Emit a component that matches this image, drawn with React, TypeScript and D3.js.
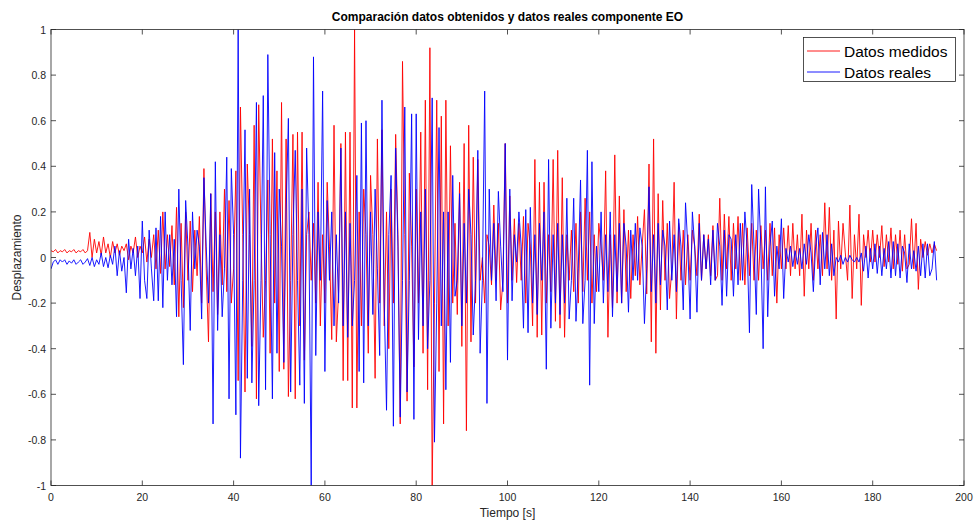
import React from "react";
import * as d3 from "d3";

// Sampling interval of both records, in seconds
const SAMPLE_STEP = 0.5;

// Datos medidos (red), one row per 5 s
const datosMedidos: number[] = [
  0.03, 0.025, 0.035, 0.02, 0.03, 0.025, 0.035, 0.02, 0.03, 0.025,
  0.035, 0.02, 0.03, 0.025, 0.035, 0.02, 0.03, 0.11, 0.0, 0.08,
  0.02, 0.07, 0.01, 0.09, 0.02, 0.06, 0.0, 0.07, 0.02, 0.06,
  0.01, 0.05, 0.03, 0.06, -0.01, 0.05, 0.02, 0.09, 0.0, 0.05,
  0.02, 0.09, -0.02, 0.08, 0.0, 0.1, -0.05, 0.12, -0.07, 0.2,
  -0.05, 0.1, -0.04, 0.14, -0.12, 0.22, -0.26, 0.15, -0.22, 0.2,
  -0.1, 0.16, -0.15, 0.12, -0.08, 0.18, -0.2, 0.39, -0.05, -0.37,
  0.28, -0.15, 0.2, -0.25, 0.2, -0.12, 0.3, -0.15, 0.25, -0.2,
  -0.05, 0.38, -0.54, 0.66, 0.1, -0.59, 0.41, 0.1, -0.39, 0.58,
  -0.62, 0.67, 0.1, -0.35, -0.1, 0.34, -0.42, 0.52, -0.2, 0.38,
  -0.5, 0.68, -0.49, 0.52, -0.61, -0.1, 0.54, -0.62, 0.55, -0.3,
  0.55, -0.45, 0.1, 0.2, -0.1, 0.15, -0.2, 0.33, -0.3, 0.1,
  -0.2, 0.33, 0.05, -0.36, 0.58, -0.37, -0.15, 0.5, -0.54, 0.55,
  -0.54, 0.55, -0.66, 1.0, -0.66, 0.2, -0.3, 0.3, 0.1, -0.42,
  0.36, 0.1, -0.53, 0.52, -0.2, 0.56, -0.3, 0.2, -0.4, 0.3,
  -0.2, 0.54, 0.1, -0.73, 0.86, 0.1, -0.63, 0.37, 0.05, -0.48,
  0.3, -0.2, 0.55, -0.42, 0.69, -0.58, 0.92, -1.0, -0.2, 0.69,
  -0.5, 0.62, -0.73, 0.69, -0.3, 0.49, -0.2, 0.15, -0.25, 0.33,
  -0.39, 0.5, -0.76, 0.58, -0.37, 0.44, -0.2, 0.43, -0.1, 0.0,
  -0.2, 0.1, 0.05, -0.12, 0.23, -0.1, 0.15, -0.23, -0.1, 0.5,
  -0.2, 0.27, -0.1, 0.17, -0.11, 0.15, -0.1, 0.18, -0.2, 0.15,
  0.05, -0.3, 0.43, -0.35, 0.33, -0.34, 0.33, -0.2, 0.1, -0.15,
  0.43, -0.28, 0.47, -0.31, 0.35, -0.35, 0.1, -0.1, 0.12, -0.15,
  0.15, -0.2, 0.2, -0.15, 0.26, -0.1, 0.2, -0.2, 0.1, -0.15,
  0.15, 0.05, -0.1, 0.38, -0.35, 0.1, -0.22, 0.45, -0.2, 0.27,
  -0.2, 0.21, -0.15, 0.12, -0.18, 0.1, -0.08, 0.18, -0.12, 0.05,
  0.21, -0.16, 0.41, -0.37, 0.52, -0.42, 0.28, -0.23, 0.25, -0.1,
  0.15, -0.18, -0.05, 0.33, -0.27, 0.15, -0.1, 0.12, -0.12, 0.1,
  -0.1, 0.12, 0.05, -0.08, 0.19, -0.1, 0.1, -0.05, 0.1, -0.08,
  0.14, -0.1, -0.08, 0.26, -0.1, 0.19, -0.05, 0.18, -0.1, 0.15,
  -0.05, 0.18, -0.1, 0.15, -0.12, 0.13, -0.08, 0.15, -0.1, 0.12,
  -0.1, 0.14, -0.05, 0.12, -0.1, 0.15, -0.08, 0.13, -0.2, 0.1,
  -0.05, 0.13, -0.05, 0.14, -0.08, 0.15, -0.05, 0.1, -0.08, 0.19,
  -0.17, 0.12, -0.05, 0.15, -0.1, 0.12, -0.05, 0.1, -0.08, 0.24,
  -0.05, 0.22, -0.1, 0.12, -0.27, 0.16, -0.05, 0.15, 0.02, -0.1,
  0.23, -0.18, 0.1, -0.05, 0.19, -0.21, 0.1, 0.0, 0.12, -0.02,
  0.12, -0.02, 0.1, 0.0, 0.14, -0.04, 0.1, -0.02, 0.13, -0.05,
  0.1, -0.03, 0.12, -0.06, 0.1, -0.05, -0.03, 0.17, -0.05, 0.15,
  -0.14, 0.08, 0.0, 0.07, 0.01, 0.06, 0.02, 0.06, 0.03,
];

// Datos reales (blue), one row per 5 s
const datosReales: number[] = [
  -0.05, -0.02, -0.01, -0.03, -0.01, -0.02, -0.01, -0.03, -0.015, -0.025,
  -0.01, -0.03, -0.02, -0.01, -0.03, -0.02, -0.005, -0.035, 0.0, -0.04,
  -0.01, -0.03, 0.02, -0.04, 0.0, -0.045, 0.01, -0.03, 0.05, -0.08,
  0.03, -0.06, 0.0, -0.155, 0.08, -0.05, 0.04, -0.08, 0.05, -0.18,
  0.16, -0.1, -0.18, 0.12, -0.05, -0.19, 0.13, -0.19, 0.18, -0.22,
  0.2, -0.1, 0.1, -0.12, 0.08, -0.26, 0.3, -0.1, -0.47, 0.25,
  0.05, -0.32, 0.2, -0.05, 0.12, 0.05, -0.27, 0.35, 0.05, -0.2,
  0.28, -0.73, 0.42, -0.32, 0.1, -0.26, -0.05, 0.44, -0.62, 0.39,
  0.1, -0.69, 1.0, -0.88, -0.1, 0.56, -0.53, 0.3, -0.55, -0.1,
  0.68, -0.65, -0.1, 0.71, -0.58, 0.89, 0.1, -0.62, 0.46, -0.42,
  0.3, 0.05, -0.46, 0.2, 0.61, -0.59, 0.1, 0.47, -0.1, -0.56,
  0.3, -0.64, 0.48, 0.1, -1.0, 0.88, -0.43, 0.2, -0.1, 0.73,
  -0.5, 0.25, -0.1, 0.2, -0.3, 0.1, -0.2, 0.48, -0.3, 0.2,
  -0.35, 0.15, -0.3, -0.1, 0.36, -0.5, 0.59, -0.55, 0.6, -0.3,
  0.2, -0.25, 0.3, -0.05, -0.43, 0.69, -0.2, -0.67, 0.1, 0.36,
  -0.74, 0.48, 0.05, -0.7, -0.1, 0.66, -0.59, -0.1, 0.63, -0.71,
  0.63, -0.36, 0.2, -0.3, 0.3, -0.4, -0.1, 0.7, -0.81, -0.2,
  0.57, -0.3, 0.2, -0.58, 0.2, -0.46, 0.36, -0.17, -0.1, 0.28,
  -0.3, 0.15, -0.2, 0.3, 0.1, -0.34, -0.1, 0.47, -0.42, -0.1,
  0.73, -0.64, 0.3, -0.1, 0.15, -0.19, 0.29, 0.05, -0.15, 0.5,
  -0.45, 0.3, -0.19, 0.1, -0.02, 0.2, 0.05, -0.31, 0.21, -0.33,
  0.22, -0.2, 0.1, -0.25, 0.15, -0.1, 0.2, -0.49, 0.43, -0.31,
  0.1, -0.2, 0.15, -0.25, 0.1, -0.2, 0.26, -0.27, -0.1, 0.26,
  -0.28, -0.05, 0.34, -0.29, -0.1, 0.47, -0.56, 0.42, -0.29, 0.05,
  -0.15, 0.2, -0.2, 0.1, -0.15, 0.2, -0.26, 0.1, -0.15, 0.15,
  -0.2, 0.15, 0.05, -0.24, 0.12, -0.1, 0.15, -0.1, 0.13, 0.05,
  -0.29, -0.05, 0.31, -0.15, 0.1, -0.2, 0.15, -0.12, 0.12, 0.05,
  -0.23, 0.16, -0.1, 0.1, -0.15, 0.17, 0.05, -0.23, 0.24, 0.05,
  -0.27, 0.2, 0.05, -0.24, 0.15, -0.1, 0.1, -0.05, 0.08, -0.12,
  0.12, -0.1, 0.15, 0.05, -0.21, 0.12, -0.17, 0.1, 0.08, -0.17,
  0.1, -0.12, 0.15, -0.1, 0.2, 0.05, -0.33, 0.32, 0.05, -0.25,
  0.3, 0.05, -0.4, 0.31, -0.26, 0.05, 0.16, -0.17, 0.05, -0.05,
  0.17, -0.18, 0.04, -0.02, 0.05, -0.04, 0.03, -0.03, 0.04, -0.05,
  0.06, -0.03, 0.1, 0.02, -0.15, 0.05, 0.13, -0.12, 0.11, -0.05,
  0.1, -0.08, 0.06, -0.08, 0.0, -0.02, 0.01, -0.03, 0.0, -0.02,
  0.01, -0.01, -0.02, 0.0, -0.02, 0.02, -0.06, 0.05, -0.09, 0.04,
  -0.05, 0.06, -0.07, 0.05, -0.08, 0.04, -0.05, 0.07, -0.09, 0.07,
  -0.08, 0.06, -0.09, 0.05, 0.02, -0.11, 0.06, -0.05, 0.03, -0.06,
  0.05, -0.08, 0.06, -0.09, 0.06, -0.08, -0.05, 0.07, -0.1,
];

const xTicks = [0, 20, 40, 60, 80, 100, 120, 140, 160, 180, 200];
const yTicks = [-1, -0.8, -0.6, -0.4, -0.2, 0, 0.2, 0.4, 0.6, 0.8, 1];
const yTickLabels = ["-1", "-0.8", "-0.6", "-0.4", "-0.2", "0", "0.2", "0.4", "0.6", "0.8", "1"];

const seriesNames = ["Datos medidos", "Datos reales"];
const seriesColors = ["#ff0000", "#0000ff"];

const W = 974;
const H = 524;
const M = { left: 51, right: 964, top: 29.5, bottom: 485.5 };
const AXIS = "#262626";
const FONT = "'Liberation Sans', Arial, Helvetica, sans-serif";

export default function App() {
  const x = d3.scaleLinear().domain([0, 200]).range([M.left, M.right]);
  const y = d3.scaleLinear().domain([-1, 1]).range([M.bottom, M.top]);

  const line = d3
    .line<number>()
    .x((_, i) => x(i * SAMPLE_STEP))
    .y((v) => y(v));

  const series = [datosMedidos, datosReales];
  const tick = 5;

  return (
    <svg
      width={W}
      height={H}
      viewBox={`0 0 ${W} ${H}`}
      style={{ position: "absolute", left: 0, top: 0, background: "#fff" }}
      fontFamily={FONT}
    >
      <defs>
        <clipPath id="plot-area">
          <rect x={M.left} y={M.top} width={M.right - M.left} height={M.bottom - M.top} />
        </clipPath>
      </defs>

      {/* traces */}
      <g clipPath="url(#plot-area)">
        {series.map((s, k) => (
          <path
            key={k}
            d={line(s) ?? ""}
            fill="none"
            stroke={seriesColors[k]}
            strokeWidth={0.9}
            strokeLinejoin="round"
          />
        ))}
      </g>

      {/* axes box */}
      <rect
        x={M.left}
        y={M.top}
        width={M.right - M.left}
        height={M.bottom - M.top}
        fill="none"
        stroke={AXIS}
        strokeWidth={0.8}
      />

      {/* x ticks */}
      {xTicks.map((t) => (
        <g key={`x${t}`}>
          <line x1={x(t)} x2={x(t)} y1={M.bottom} y2={M.bottom - tick} stroke={AXIS} strokeWidth={0.8} />
          <line x1={x(t)} x2={x(t)} y1={M.top} y2={M.top + tick} stroke={AXIS} strokeWidth={0.8} />
          <text x={x(t)} y={M.bottom + 15} textAnchor="middle" fontSize={10.5} fill={AXIS}>
            {t}
          </text>
        </g>
      ))}

      {/* y ticks */}
      {yTicks.map((v, i) => (
        <g key={`y${v}`}>
          <line x1={M.left} x2={M.left + tick} y1={y(v)} y2={y(v)} stroke={AXIS} strokeWidth={0.8} />
          <line x1={M.right} x2={M.right - tick} y1={y(v)} y2={y(v)} stroke={AXIS} strokeWidth={0.8} />
          <text x={M.left - 5} y={y(v) + 4} textAnchor="end" fontSize={10.5} fill={AXIS}>
            {yTickLabels[i]}
          </text>
        </g>
      ))}

      {/* title and axis labels */}
      <text
        x={(M.left + M.right) / 2}
        y={21}
        textAnchor="middle"
        fontSize={12}
        fontWeight="bold"
        fill="#000"
      >
        Comparación datos obtenidos y datos reales componente EO
      </text>
      <text x={(M.left + M.right) / 2} y={517} textAnchor="middle" fontSize={12} fill={AXIS}>
        Tiempo [s]
      </text>
      <text
        transform={`translate(21, ${(M.top + M.bottom) / 2}) rotate(-90)`}
        textAnchor="middle"
        fontSize={12}
        fill={AXIS}
      >
        Desplazamiento
      </text>

      {/* legend */}
      <g>
        <rect x={803.5} y={37.5} width={152} height={44} fill="#fff" stroke={AXIS} strokeWidth={0.8} />
        {seriesNames.map((name, k) => (
          <g key={name}>
            <line
              x1={807}
              x2={840}
              y1={51 + k * 21}
              y2={51 + k * 21}
              stroke={seriesColors[k]}
              strokeWidth={0.9}
            />
            <text x={844} y={56.5 + k * 21} fontSize={15.5} fill="#000">
              {name}
            </text>
          </g>
        ))}
      </g>
    </svg>
  );
}
